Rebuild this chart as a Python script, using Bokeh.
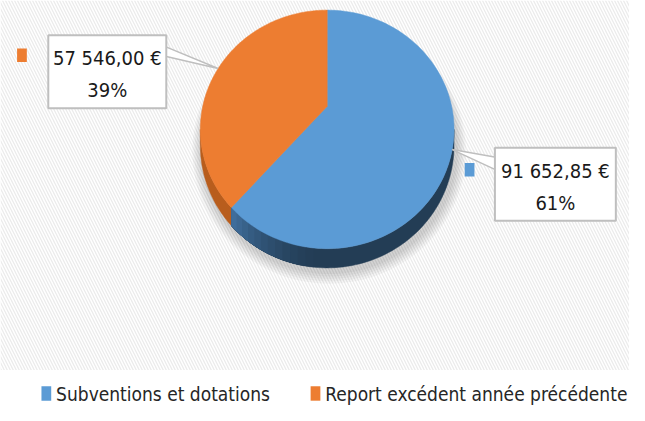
import numpy as np
from bokeh.plotting import figure
from bokeh.models import Range1d
from bokeh.core.properties import value
from bokeh.embed import file_html
from bokeh.resources import INLINE

# ---- data ----
categories = ["Subventions et dotations", "Report excédent année précédente"]
amounts = [91652.85, 57546.00]
amount_labels = ["91 652,85 €", "57 546,00 €"]
pct_labels = ["61%", "39%"]

# ---- styles ----
top_colors = ["#5b9bd5", "#ed7d31"]
side_colors = ["#233d55", "#b85d1d"]
FONT = "'DejaVu Sans Condensed', 'Liberation Sans Narrow', Roboto, sans-serif"

W, H = 629, 405
p = figure(width=W, height=H, x_range=Range1d(0, 645), y_range=Range1d(421, 0),
           output_backend="svg", toolbar_location=None, min_border=0,
           x_axis_location=None, y_axis_location=None)
p.grid.visible = False
p.outline_line_color = None
p.background_fill_color = "white"
p.border_fill_color = "white"

# background hatch
p.quad(left=[0], right=[645], top=[0], bottom=[384], fill_color="white", line_color=None,
       hatch_pattern="\\", hatch_color="#ebebeb", hatch_scale=6, hatch_weight=1.3)

# ---- pie geometry (perspective tilted disc) ----
cx, cy, A, B, k, h0 = 335.0, 110.0, 127.6, 119.35, 0.1935, 16.1


def proj(phi_deg, depth=0.0, grow=0.0):
    ph = np.radians(phi_deg)
    s = 1 + k * np.cos(ph)
    x = cx + (A + grow) * np.sin(ph) / s
    y = cy - (B + grow) * np.cos(ph) / s + depth / s
    return x, y


total = sum(amounts)
fracs = [a / total for a in amounts]
bounds = [0.0]
for f in fracs:
    bounds.append(bounds[-1] + 360.0 * f)

phi_r = np.degrees(np.arccos(-k))  # right silhouette
phi_l = 360.0 - phi_r              # left silhouette

# soft shadow
for g in [10, 8, 6, 4, 2]:
    ph = np.linspace(0, 360, 181)
    x, y = proj(ph, depth=h0, grow=g)
    p.patch(list(x + 2), list(y + 4), fill_color="#000000", fill_alpha=0.035, line_color=None)


def mix(c1, c2, t):
    a = [int(c1[j:j + 2], 16) for j in (1, 3, 5)]
    b = [int(c2[j:j + 2], 16) for j in (1, 3, 5)]
    return "#%02x%02x%02x" % tuple(int(round(a[m] + (b[m] - a[m]) * t)) for m in range(3))


def side_poly(a0, a1, n=80):
    ph = np.linspace(a0, a1, n)
    xt, yt = proj(ph)
    xb, yb = proj(ph[::-1], depth=h0)
    return list(xt) + list(xb), list(yt) + list(yb)


# side walls: solid base per slice
for si in range(len(amounts)):
    a0 = max(bounds[si], phi_r)
    a1 = min(bounds[si + 1], phi_l)
    if a1 <= a0:
        continue
    sx, sy = side_poly(a0, a1)
    p.patch(sx, sy, fill_color=side_colors[si], line_color=side_colors[si], line_width=0.5)

# lighter gradient on the blue side near the slice boundary (overlapping bands)
g0 = 185.0
g1 = bounds[1]
steps = 12
gx, gy, gc = [], [], []
for j in range(steps):
    a0 = g0 + (g1 - g0) * j / steps
    t = (j + 1) / steps
    sx, sy = side_poly(a0, g1, 30)
    gx.append(sx)
    gy.append(sy)
    gc.append(mix(side_colors[0], "#3f6d9b", t ** 1.5))
p.patches(gx, gy, fill_color=gc, line_color=None)

# top faces
for si in range(len(amounts)):
    ph = np.linspace(bounds[si], bounds[si + 1], 120)
    x, y = proj(ph)
    p.patch([cx] + list(x), [cy] + list(y), fill_color=top_colors[si], line_color=top_colors[si], line_width=0.5)

# ---- callouts ----
boxes = [(507, 153, 631, 229), (49, 36, 170, 112)]  # left, top, right, bottom
for si in range(len(amounts)):
    mid = 0.5 * (bounds[si] + bounds[si + 1])
    ax, ay = proj(mid)
    l, t, r, b = boxes[si]
    if si == 0:
        wx = [ax, l + 1, l + 1]
        wy = [ay, 163, 176]
    else:
        wx = [ax, r - 1, r - 1]
        wy = [ay, 48, 58]
    p.patch(wx, wy, fill_color="white", line_color="#bfbfbf", line_width=1.5)
    p.quad(left=[l], right=[r], top=[t], bottom=[b], fill_color="white", line_color="#bfbfbf", line_width=2)
    cxx = 0.5 * (l + r)
    p.text(x=[cxx], y=[t + 24], text=[amount_labels[si]], text_font=value(FONT), text_font_size="20px",
           text_align="center", text_baseline="middle", text_color="#1a1a1a")
    p.text(x=[cxx], y=[t + 57], text=[pct_labels[si]], text_font=value(FONT), text_font_size="20px",
           text_align="center", text_baseline="middle", text_color="#1a1a1a")
    # small colour marker next to the box
    if si == 0:
        p.quad(left=[476], right=[486], top=[169], bottom=[183], fill_color=top_colors[si], line_color=None)
    else:
        p.quad(left=[17], right=[27], top=[50], bottom=[64], fill_color=top_colors[si], line_color=None)

# ---- legend ----
leg_x = [42, 318]
for si in range(len(categories)):
    p.quad(left=[leg_x[si]], right=[leg_x[si] + 10], top=[401], bottom=[416], fill_color=top_colors[si], line_color=None)
    p.text(x=[leg_x[si] + 15], y=[409], text=[categories[si]], text_font=value(FONT), text_font_size="19px",
           text_align="left", text_baseline="middle", text_color="#262626")

open("out.html", "w").write(file_html(p, INLINE))
